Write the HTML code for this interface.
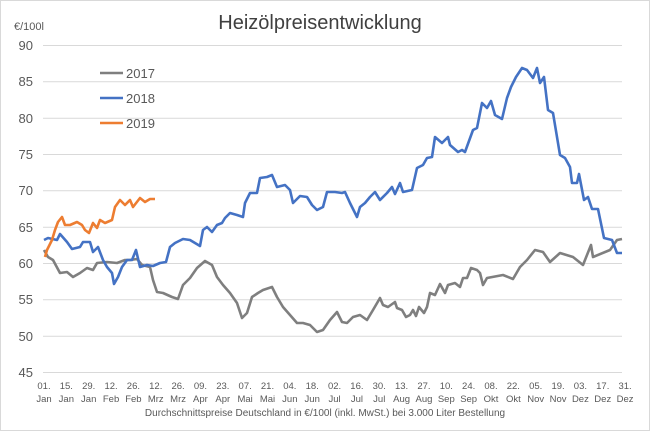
<!DOCTYPE html>
<html><head><meta charset="utf-8"><style>
body{margin:0;background:#fff}
svg{display:block;font-family:"Liberation Sans",sans-serif}
</style></head><body>
<svg width="650" height="431" viewBox="0 0 650 431">
<rect x="0.5" y="0.5" width="649" height="430" fill="#fff" stroke="#d9d9d9"/>
<text x="320" y="29" font-size="20" fill="#404040" text-anchor="middle">Heizölpreisentwicklung</text>
<text x="14" y="30" font-size="11" fill="#595959">€/100l</text>
<g stroke="#d9d9d9" stroke-width="1">
<line x1="43" x2="622" y1="45.5" y2="45.5"/><line x1="43" x2="622" y1="81.8" y2="81.8"/>
<line x1="43" x2="622" y1="118.2" y2="118.2"/><line x1="43" x2="622" y1="154.5" y2="154.5"/>
<line x1="43" x2="622" y1="190.8" y2="190.8"/><line x1="43" x2="622" y1="227.2" y2="227.2"/>
<line x1="43" x2="622" y1="263.5" y2="263.5"/><line x1="43" x2="622" y1="299.8" y2="299.8"/>
<line x1="43" x2="622" y1="336.2" y2="336.2"/><line x1="43" x2="622" y1="372.5" y2="372.5"/>
</g>
<g font-size="13" fill="#595959" text-anchor="end">
<text x="33" y="50">90</text><text x="33" y="86">85</text><text x="33" y="123">80</text>
<text x="33" y="159">75</text><text x="33" y="195">70</text><text x="33" y="232">65</text>
<text x="33" y="268">60</text><text x="33" y="304">55</text><text x="33" y="341">50</text>
<text x="33" y="377">45</text>
</g>
<g id="xl" font-size="9.5" fill="#595959" text-anchor="middle"></g>
<text x="325" y="416" font-size="10" fill="#595959" text-anchor="middle">Durchschnittspreise Deutschland in €/100l (inkl. MwSt.) bei 3.000 Liter Bestellung</text>
<g fill="none" stroke-width="2.6" stroke-linejoin="round">
<polyline stroke="#7f7f7f" points="44,250 48,257 53,260 60,273 67,272 73,277 80,273 87,268 93,270 97,263 107,262 117,263 125,260 130,260 137,259 142,265 150,267 153,280 157,292 163,293 172,297 178,299 183,285 190,278 197,268 205,261 212,265 217,277 223,285 230,293 237,303 242,318 247,313 252,297 258,293 263,290 272,287 277,297 283,307 290,315 297,323 303,323 310,325 317,332 323,330 330,320 337,312 342,322 347,323 353,317 360,315 367,320 373,310 380,298 383,305 388,307 395,302 397,308 402,310 406,317 410,315 413,310 416,316 419,307 424,313 427,307 430,293 435,295 440,284 445,293 448,285 455,283 460,287 463,278 467,278 471,268 477,270 480,273 483,285 487,278 503,275 513,279 520,267 527,260 535,250 543,252 550,262 560,253 573,257 583,265 591,245 593,257 610,250 617,240 622,239"/>
<polyline stroke="#4472c4" points="44,240 48,238 57,240 60,234 67,242 72,249 80,247 83,242 90,242 93,252 98,247 103,260 107,267 112,273 114,284 118,277 122,267 127,260 132,260 136,250 140,267 147,265 153,266 160,263 166,262 170,247 175,243 183,239 190,240 195,243 200,246 203,230 207,227 212,232 217,225 222,223 225,218 230,213 237,215 243,217 245,203 250,193 257,193 260,178 267,177 272,175 277,187 285,185 290,190 293,203 300,196 307,197 312,205 317,210 323,207 327,192 335,192 342,193 345,192 350,203 357,217 360,207 365,203 370,197 375,192 380,200 387,193 392,187 395,194 400,183 403,192 412,190 417,168 423,165 427,158 432,157 435,137 442,143 448,137 450,145 458,152 462,150 465,152 473,130 477,128 482,103 487,108 491,101 495,115 502,119 507,98 511,87 516,77 522,68 527,70 533,78 537,68 540,83 544,77 548,110 553,113 560,155 565,158 570,167 572,183 577,183 579,174 584,200 588,197 592,209 598,209 604,238 612,240 617,253 622,253"/>
<polyline stroke="#ed7d31" points="45,257 47,250 52,240 55,230 58,222 62,217 65,225 70,225 77,222 82,225 85,230 89,233 93,223 97,228 100,220 105,223 112,220 115,207 120,200 125,205 130,200 133,207 140,198 145,202 150,199 155,199"/>
<line x1="100" x2="123" y1="73" y2="73" stroke="#7f7f7f"/>
<line x1="100" x2="123" y1="98" y2="98" stroke="#4472c4"/>
<line x1="100" x2="123" y1="123" y2="123" stroke="#ed7d31"/>
</g>
<g font-size="13" fill="#595959">
<text x="126" y="78">2017</text><text x="126" y="103">2018</text><text x="126" y="128">2019</text>
</g>
</svg>
<script>
var d=["01.","15.","29.","12.","26.","12.","26.","09.","23.","07.","21.","04.","18.","02.","16.","30.","13.","27.","10.","24.","08.","22.","05.","19.","03.","17.","31."];
var m=["Jan","Jan","Jan","Feb","Feb","Mrz","Mrz","Apr","Apr","Mai","Mai","Jun","Jun","Jul","Jul","Jul","Aug","Aug","Sep","Sep","Okt","Okt","Nov","Nov","Dez","Dez","Dez"];
var g=document.getElementById("xl"),s="";
for(var i=0;i<27;i++){var x=44+i*22.35;s+='<text x="'+x+'" y="389">'+d[i]+'</text><text x="'+x+'" y="402">'+m[i]+'</text>';}
g.innerHTML=s;
</script>
</body></html>
